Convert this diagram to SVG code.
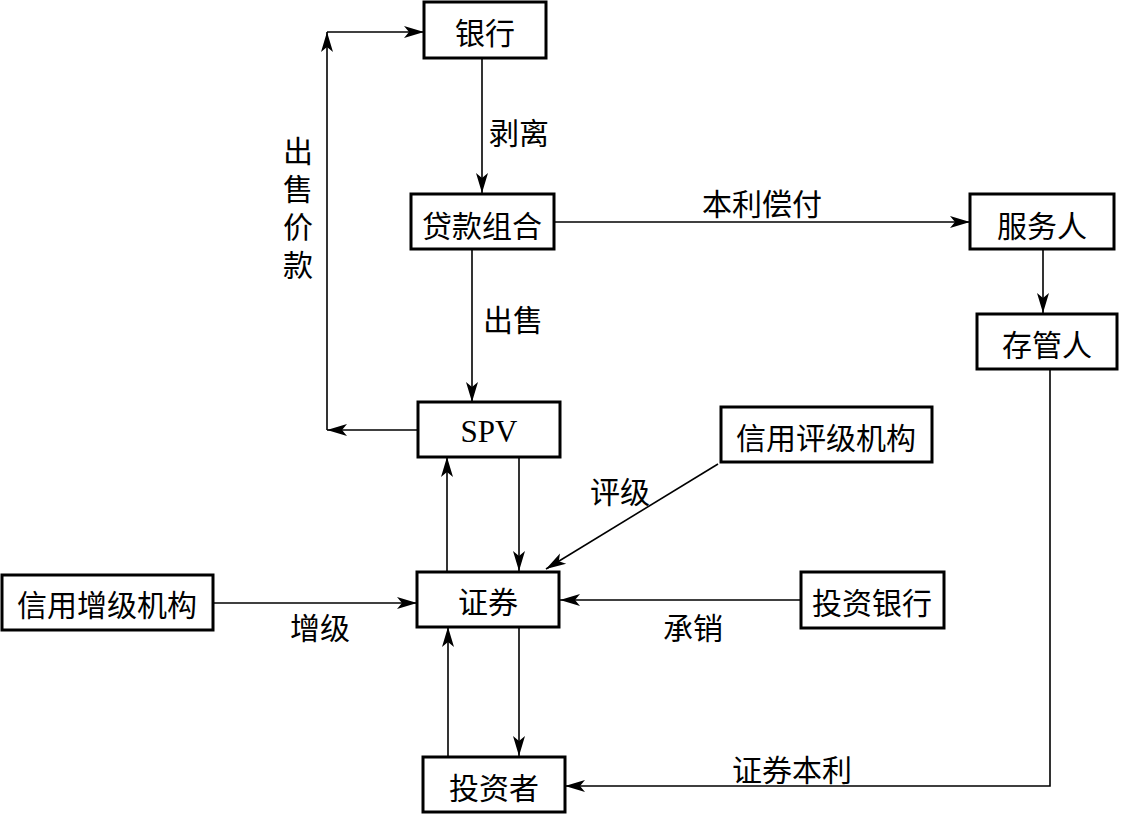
<svg xmlns="http://www.w3.org/2000/svg" width="1121" height="814" viewBox="0 0 1121 814">
<style>
.box{fill:#fff;stroke:#000;stroke-width:3}
.t{font-family:"Noto Sans CJK SC","Liberation Serif",serif;font-size:30px;fill:#000;text-anchor:middle;dominant-baseline:central}
.lat{font-family:"Liberation Serif","Noto Sans CJK SC",serif;font-size:31px}
.ln{stroke:#000;stroke-width:1.6;fill:none}
.a{marker-end:url(#ah)}
</style>
<defs>
<marker id="ah" markerUnits="userSpaceOnUse" markerWidth="22" markerHeight="14" refX="20" refY="6" orient="auto" overflow="visible">
<path d="M0,0 L20,6 L0,12 L5,6 Z" fill="#000"/>
</marker>
</defs>
<rect width="1121" height="814" fill="#fff"/>
<g id="connectors">
<line class="ln a" x1="482" y1="58" x2="482" y2="193"/>
<line class="ln a" x1="472" y1="249" x2="472" y2="402"/>
<line class="ln a" x1="554" y1="222" x2="970" y2="222"/>
<line class="ln a" x1="1043" y1="249" x2="1043" y2="313"/>
<line class="ln a" x1="418" y1="430" x2="327" y2="430"/>
<line class="ln a" x1="327" y1="430" x2="327" y2="32"/>
<line class="ln a" x1="327" y1="32" x2="424" y2="32"/>
<line class="ln a" x1="447" y1="571" x2="447" y2="457"/>
<line class="ln a" x1="519" y1="457" x2="519" y2="571"/>
<line class="ln a" x1="718" y1="464" x2="546" y2="569"/>
<line class="ln a" x1="213" y1="603" x2="417" y2="603"/>
<line class="ln a" x1="801" y1="600" x2="560" y2="600"/>
<line class="ln a" x1="448" y1="756" x2="448" y2="627"/>
<line class="ln a" x1="519" y1="627" x2="519" y2="756"/>
<polyline class="ln a" points="1050,369 1050,786 565,786"/>
<text class="t" x="519" y="131">剥离</text>
<text class="t" x="513" y="318">出售</text>
<text class="t" x="762" y="202">本利偿付</text>
<text class="t" x="298" y="212" style="writing-mode:vertical-rl;letter-spacing:8px">出售价款</text>
<text class="t" x="620" y="490">评级</text>
<text class="t" x="320" y="626">增级</text>
<text class="t" x="693" y="626">承销</text>
<text class="t" x="792" y="768">证券本利</text>
</g>
<g id="bank"><rect class="box" x="424" y="2" width="122" height="56"/><text class="t" x="485" y="31">银行</text></g>
<g id="loan"><rect class="box" x="411" y="194" width="143" height="55"/><text class="t" x="482" y="224">贷款组合</text></g>
<g id="servicer"><rect class="box" x="970" y="194" width="144" height="55"/><text class="t" x="1042" y="224">服务人</text></g>
<g id="custodian"><rect class="box" x="977" y="314" width="140" height="55"/><text class="t" x="1047" y="343">存管人</text></g>
<g id="spv"><rect class="box" x="418" y="402" width="142" height="55"/><text class="t lat" x="489" y="431">SPV</text></g>
<g id="rating"><rect class="box" x="721" y="407" width="211" height="55"/><text class="t" x="826" y="436">信用评级机构</text></g>
<g id="securities"><rect class="box" x="417" y="572" width="142" height="55"/><text class="t" x="488" y="600">证券</text></g>
<g id="enhance"><rect class="box" x="2" y="575" width="211" height="55"/><text class="t" x="107" y="603">信用增级机构</text></g>
<g id="ibank"><rect class="box" x="801" y="572" width="143" height="56"/><text class="t" x="872" y="601">投资银行</text></g>
<g id="investor"><rect class="box" x="423" y="757" width="142" height="55"/><text class="t" x="494" y="786">投资者</text></g>
</svg>
